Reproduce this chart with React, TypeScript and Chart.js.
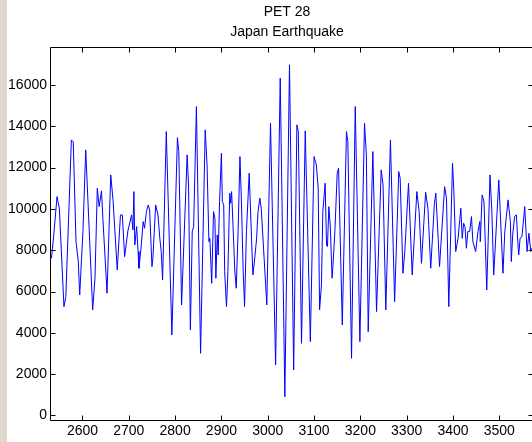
import { useEffect, useRef } from "react";
import { Chart, registerables } from "chart.js";

Chart.register(...registerables);

const titleLines = ["PET 28", "Japan Earthquake"];

const sampleIndex = [
  2533, 2538, 2545, 2550, 2560, 2564, 2576, 2580, 2586, 2591, 2594, 2598, 2601, 2607, 2622, 2627,
  2632, 2636, 2641, 2644, 2653, 2661, 2666, 2675, 2682, 2686, 2691, 2698, 2706, 2709, 2711, 2713,
  2717, 2720, 2722, 2727, 2731, 2734, 2738, 2742, 2745, 2750, 2752, 2758, 2763, 2767, 2770, 2773,
  2781, 2793, 2805, 2808, 2814, 2826, 2829, 2833, 2837, 2840, 2846, 2855, 2865, 2869, 2873, 2875,
  2879, 2883, 2886, 2888, 2891, 2893, 2896, 2900, 2902, 2905, 2907, 2911, 2914, 2918, 2920, 2922,
  2925, 2929, 2932, 2936, 2940, 2943, 2947, 2950, 2954, 2960, 2965, 2968, 2972, 2976, 2979, 2983,
  2986, 2998, 3006, 3017, 3027, 3037, 3047, 3056, 3063, 3066, 3073, 3081, 3092, 3100, 3105, 3109,
  3112, 3116, 3119, 3124, 3127, 3129, 3132, 3135, 3139, 3141, 3145, 3150, 3153, 3161, 3170, 3173,
  3181, 3189, 3199, 3209, 3213, 3217, 3227, 3235, 3245, 3249, 3255, 3265, 3274, 3283, 3286, 3292,
  3296, 3304, 3312, 3322, 3327, 3332, 3341, 3346, 3352, 3360, 3363, 3368, 3371, 3382, 3386, 3391,
  3399, 3402, 3406, 3411, 3417, 3420, 3423, 3426, 3429, 3432, 3436, 3440, 3443, 3449, 3454, 3458,
  3459, 3463, 3467, 3473, 3480, 3484, 3488, 3490, 3499, 3508, 3512, 3519, 3524, 3526, 3529, 3533,
  3537, 3540, 3542, 3545, 3549, 3555, 3560, 3564, 3568, 3570,
];

const amplitude = [
  7613, 8742, 10598, 10034, 5270, 5754, 13342, 13250, 8418, 7448, 5836, 7613, 8903, 12858, 5109, 6644,
  11003, 10113, 10877, 9550, 5918, 11647, 10413, 7047, 9710, 9710, 7691, 8929, 9710, 8984, 10839, 8257,
  9145, 7936, 7128, 8257, 9387, 9065, 9870, 10192, 9950, 7208, 7613, 10192, 9710, 8580, 7936, 6562,
  13745, 3899, 13455, 12777, 5352, 12616, 11160, 4141, 8903, 9145, 14955, 3012, 13827, 12132, 8418, 8580,
  6402, 9870, 9548, 6644, 8742, 7774, 10354, 12697, 10354, 10192, 6966, 5270, 6966, 10761, 10275, 10839,
  9226, 6966, 6160, 8903, 12535, 10519, 6966, 5270, 8903, 11728, 8580, 6804, 7613, 8580, 9870, 10519,
  10034, 5352, 14151, 2446, 16330, 911, 16975, 2204, 14069, 13745, 3496, 13778, 3576, 12535, 12132, 11003,
  5109, 6321, 9870, 11244, 8257, 8177, 10113, 9226, 6644, 7290, 8903, 11728, 11971, 4383, 13745, 13261,
  2768, 14955, 3576, 14151, 12616, 4060, 12777, 5029, 11890, 11160, 5109, 13342, 5513, 11809, 11486, 6885,
  7936, 11244, 6804, 10839, 9870, 7369, 10807, 10034, 7128, 10275, 10761, 8580, 7208, 11081, 10519, 5270,
  12214, 10839, 7936, 8580, 10034, 8580, 9306, 9145, 8097, 8903, 8903, 9628, 8418, 7936, 8903, 9387,
  8418, 10679, 10354, 6078, 11647, 9870, 6804, 7613, 11405, 6885, 8903, 10437, 9387, 7450, 8742, 9628,
  9710, 8418, 7773, 8580, 8660, 10113, 7936, 8823, 7936, 8097,
];

const xTickValues = [2600, 2700, 2800, 2900, 3000, 3100, 3200, 3300, 3400, 3500];
const yTickValues = [0, 2000, 4000, 6000, 8000, 10000, 12000, 14000, 16000];

const X_MIN = 2532;
const X_MAX = 3575;
const Y_MIN = -218;
const Y_MAX = 17815;

const FONT = "'Liberation Sans', Arial, Helvetica, sans-serif";

const framePlugin = {
  id: "matlabFrame",
  afterLayout(chart: any) {
    const tb = chart.titleBlock;
    if (tb) {
      tb.left = 40;
      tb.right = 534;
      tb.width = 494;
    }
  },
  beforeDraw(chart: any) {
    const { ctx, width, height } = chart;
    ctx.save();
    ctx.fillStyle = "#ffffff";
    ctx.fillRect(0, 0, width, height);
    ctx.fillStyle = "#dfd9cd";
    ctx.fillRect(0, 0, 7, height);
    ctx.restore();
  },
  afterDraw(chart: any) {
    const { ctx, chartArea } = chart;
    const xs = chart.scales.x;
    const ys = chart.scales.y;
    const l = Math.round(chartArea.left) - 0.5;
    const r = Math.round(chartArea.right) - 0.5;
    const t = Math.round(chartArea.top) - 0.5;
    const b = Math.round(chartArea.bottom) + 0.5;
    ctx.save();
    ctx.strokeStyle = "#000000";
    ctx.lineWidth = 1;
    ctx.beginPath();
    ctx.rect(l, t, r - l, b - t);
    const tl = 5;
    for (const v of xTickValues) {
      const px = Math.round(xs.getPixelForValue(v)) + 0.5;
      ctx.moveTo(px, b);
      ctx.lineTo(px, b - tl);
      ctx.moveTo(px, t);
      ctx.lineTo(px, t + tl);
    }
    for (const v of yTickValues) {
      const py = Math.round(ys.getPixelForValue(v)) + 0.5;
      ctx.moveTo(l, py);
      ctx.lineTo(l + tl, py);
      ctx.moveTo(r, py);
      ctx.lineTo(r - tl, py);
    }
    ctx.stroke();
    ctx.restore();
  },
};

export default function App() {
  const canvasRef = useRef<HTMLCanvasElement | null>(null);

  useEffect(() => {
    const canvas = canvasRef.current;
    if (!canvas) return;
    const points = sampleIndex.map((x, i) => ({ x, y: amplitude[i] }));
    const chart = new Chart(canvas, {
      type: "line",
      data: {
        datasets: [
          {
            label: "PET 28",
            data: points,
            borderColor: "#0000ff",
            borderWidth: 1,
            pointRadius: 0,
            tension: 0,
            fill: false,
          },
        ],
      },
      options: {
        animation: false,
        responsive: false,
        devicePixelRatio: 1,
        layout: { padding: { left: 0, right: 6, top: 0, bottom: 0 } },
        plugins: {
          legend: { display: false },
          tooltip: { enabled: false },
          title: {
            display: true,
            text: titleLines,
            color: "#000000",
            font: { family: FONT, size: 14, weight: "normal", lineHeight: 1.4 },
            padding: { top: 2.5, bottom: 5.8 },
          },
        },
        scales: {
          x: {
            type: "linear",
            min: X_MIN,
            max: X_MAX,
            grid: { display: false, drawTicks: false },
            border: { display: false },
            afterBuildTicks: (scale: any) => {
              scale.ticks = xTickValues.map((v) => ({ value: v }));
            },
            afterFit: (scale: any) => {
              scale.height = 22;
            },
            ticks: {
              autoSkip: false,
              maxRotation: 0,
              minRotation: 0,
              padding: 3,
              color: "#000000",
              font: { family: FONT, size: 14 },
              callback: (v: any) => String(v),
            },
          },
          y: {
            type: "linear",
            min: Y_MIN,
            max: Y_MAX,
            grid: { display: false, drawTicks: false },
            border: { display: false },
            afterBuildTicks: (scale: any) => {
              scale.ticks = yTickValues.map((v) => ({ value: v }));
            },
            afterFit: (scale: any) => {
              scale.width = 51;
            },
            ticks: {
              autoSkip: false,
              padding: 4,
              color: "#000000",
              font: { family: FONT, size: 14 },
              callback: (v: any) => String(v),
            },
          },
        },
      },
      plugins: [framePlugin],
    });
    return () => chart.destroy();
  }, []);

  return (
    <div
      style={{
        position: "absolute",
        left: 0,
        top: 0,
        width: 532,
        height: 442,
        overflow: "hidden",
        background: "#ffffff",
      }}
    >
      <canvas ref={canvasRef} width={540} height={442} style={{ display: "block", width: 540, height: 442 }} />
    </div>
  );
}
